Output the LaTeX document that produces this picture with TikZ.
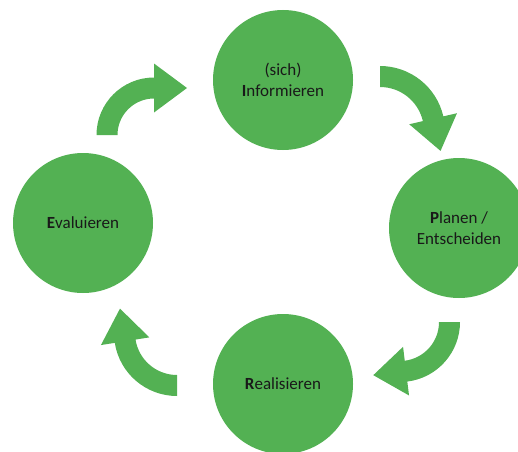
\documentclass[tikz,border=0pt]{standalone}
\usepackage{fontspec}
\setmainfont{Carlito}
\definecolor{cyclegreen}{RGB}{83,177,83}
\tikzstyle{Phase} = [
circle,
fill=cyclegreen,
minimum size=140pt,
inner sep=0pt,
align=center,
text=black!90,
font=\fontsize{17}{21}\selectfont]
% curved block arrow: centre x, centre y, mid radius, start angle, end angle
\newcommand{\cyclearrow}[5]{%
\begin{scope}[shift={(#1,#2)}]
\pgfmathsetmacro{\ro}{#3+10.5}
\pgfmathsetmacro{\ri}{#3-10.5}
\pgfmathsetmacro{\hi}{#3+24.5}
\pgfmathsetmacro{\hl}{#3-24.5}
\pgfmathsetmacro{\tx}{#3*cos(#5)+33*sin(#5)}
\pgfmathsetmacro{\ty}{#3*sin(#5)-33*cos(#5)}
\fill[cyclegreen] (#4:\ro) arc[start angle=#4, end angle=#5, radius=\ro]
-- (#5:\hi) -- (\tx,\ty) -- (#5:\hl) -- (#5:\ri)
arc[start angle=#5, end angle=#4, radius=\ri] -- cycle;
\end{scope}}

\begin{document}
\begin{tikzpicture}[x=1pt, y=1pt]
    \clip (0,0) rectangle (518,451);
    \node [Phase] (1) at (283,371) {(sich)\\\textbf{I}nformieren};
    \node [Phase] (2) at (459,223) {\textbf{P}lanen /\\Entscheiden};
    \node [Phase] (3) at (283,67) {\textbf{R}ealisieren};
    \node [Phase] (4) at (83,228) {\textbf{E}valuieren};
    \cyclearrow{154}{316}{47}{180}{90}
    \cyclearrow{380}{320}{54.5}{90}{13}
    \cyclearrow{400}{129}{49.5}{0}{-83}
    \cyclearrow{177}{118}{52.5}{270}{189}
\end{tikzpicture}
\end{document}
